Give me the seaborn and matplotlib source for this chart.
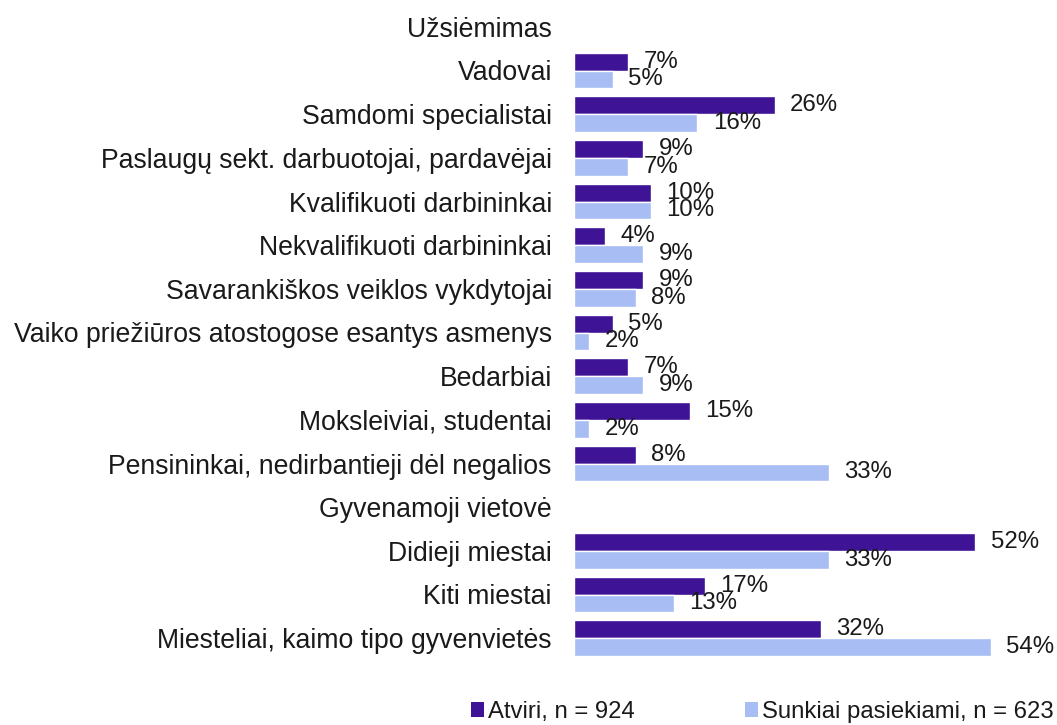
import matplotlib
matplotlib.use("Agg")
import matplotlib.pyplot as plt
import seaborn as sns
import pandas as pd
from matplotlib.patches import Patch

categories = [
    "Užsiėmimas",
    "Vadovai",
    "Samdomi specialistai",
    "Paslaugų sekt. darbuotojai, pardavėjai",
    "Kvalifikuoti darbininkai",
    "Nekvalifikuoti darbininkai",
    "Savarankiškos veiklos vykdytojai",
    "Vaiko priežiūros atostogose esantys asmenys",
    "Bedarbiai",
    "Moksleiviai, studentai",
    "Pensininkai, nedirbantieji dėl negalios",
    "Gyvenamoji vietovė",
    "Didieji miestai",
    "Kiti miestai",
    "Miesteliai, kaimo tipo gyvenvietės",
]
headers = ["Užsiėmimas", "Gyvenamoji vietovė"]
data_cats = [c for c in categories if c not in headers]

series_names = ["Atviri, n = 924", "Sunkiai pasiekiami, n = 623"]
atviri = [7, 26, 9, 10, 4, 9, 5, 7, 15, 8, 52, 17, 32]
sunkiai = [5, 16, 7, 10, 9, 8, 2, 9, 2, 33, 33, 13, 54]

colors = ["#3f1396", "#a9bdf5"]

df = pd.DataFrame({
    "cat": data_cats * 2,
    "val": atviri + sunkiai,
    "grp": [series_names[0]] * len(data_cats) + [series_names[1]] * len(data_cats),
})

sns.set_theme(style="white")
plt.rcParams["font.family"] = ["Liberation Sans", "DejaVu Sans"]

fig = plt.figure(figsize=(10.57, 7.25), dpi=100)
ax = fig.add_axes([574 / 1057, 1 - 660 / 725, (1037 - 574) / 1057, (660 - 5) / 725])

sns.barplot(data=df, y="cat", x="val", hue="grp", order=categories,
            hue_order=series_names, palette=colors, orient="h",
            width=0.82, saturation=1, ax=ax, legend=False)

for cont in ax.containers:
    labels = [f"{int(round(b.get_width()))}%" for b in cont]
    ax.bar_label(cont, labels=labels, padding=11, fontsize=17.3, color="#1a1a1a")

ax.set_xlim(0, 60)
ax.set_ylim(len(categories) - 0.5, -0.5)
ax.set_xlabel("")
ax.set_ylabel("")
ax.set_xticks([])
ax.tick_params(axis="y", length=0, pad=16, labelsize=19.2, labelcolor="#1a1a1a")
for s in ax.spines.values():
    s.set_visible(False)

handles = [Patch(facecolor=c, edgecolor="none") for c in colors]
fig.legend(handles, series_names, loc="center", bbox_to_anchor=(762 / 1057, 1 - 712 / 725),
           ncol=2, frameon=False, fontsize=17.2, handlelength=0.55, handleheight=0.55,
           handletextpad=0.17, columnspacing=4.6, borderaxespad=0, borderpad=0,
           labelcolor="#1a1a1a")

fig.savefig("out.png", dpi=100)
